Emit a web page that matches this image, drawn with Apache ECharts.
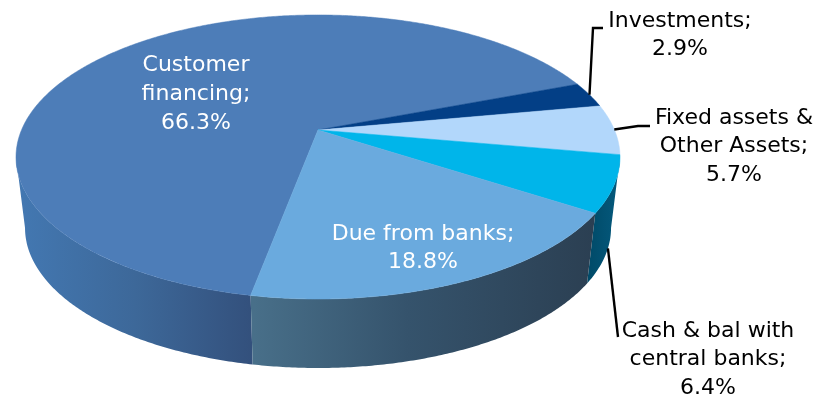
<!DOCTYPE html>
<html>
<head>
<meta charset="utf-8">
<style>html,body{margin:0;padding:0;background:#fff}#chart{width:815px;height:397px}</style>
<script src="https://cdn.jsdelivr.net/npm/echarts@6/dist/echarts.min.js"></script>
</head>
<body>
<div id="chart"></div>
<script>
// Asset mix, clockwise from the start of "Customer financing"
const categories = ['Customer\nfinancing', 'Investments', 'Fixed assets &\nOther Assets', 'Cash & bal with\ncentral banks', 'Due from banks'];
const shares = [66.3, 2.9, 5.7, 6.4, 18.8];

const faceColors = ['#4d7db8', '#033f86', '#b2d7fb', '#00b5ea', '#6aaade'];
const wallStops = [
  [[0, '#4378b2'], [0.5, '#3d6899'], [1, '#33507c']],
  [[0, '#02254f'], [1, '#02254f']],
  [[0, '#6a8199'], [1, '#6a8199']],
  [[0, '#004a68'], [1, '#055a7e']],
  [[0, '#486f89'], [0.45, '#35536c'], [1, '#2b3f52']]
];
const wallRange = [[17, 254], [570, 600], [600, 621], [588, 621], [254, 596]];

// Label placement: text centre, first line centre, leader polyline after its rim anchor
const labelLayouts = [
  { x: 196, y: 65.5, white: true },
  { x: 680, y: 21, leader: [[593, 28], [603, 28]] },
  { x: 734, y: 118, leader: [[638, 126], [650, 126]] },
  { x: 708, y: 331, leader: [[618, 337]], onWall: true, anchorShift: -2.5 },
  { x: 423, y: 234, white: true }
];
const LINE_HEIGHT = 28.7;
const FONT = '22px "DejaVu Sans"';

// Perspective disc: the hub sits above the centre of the elliptical rim
const hub = { x: 318, y: 130 };
const persp = { a: 136.9, c: -0.19, d: 296.5 };
const rimTop = { x: 319, y: 157 };
const rimBottom = { x: 319, y: 228, sx: 293 / 302, sy: 140 / 142 };
const START_DEG = 100.65;
// The wall faces the viewer only between the rim's left and right extremes
const FRONT_FROM = 11, FRONT_TO = 169;

const total = shares.reduce((s, v) => s + v, 0);

function topPoint(deg) {
  const t = deg * Math.PI / 180;
  const u = Math.cos(t), v = Math.sin(t);
  const w = 1 + persp.c * v;
  return [hub.x + persp.d * u / w, hub.y + persp.a * v / w];
}
function bottomPoint(deg) {
  const p = topPoint(deg);
  return [
    rimBottom.x + (p[0] - rimTop.x) * rimBottom.sx,
    rimBottom.y + (p[1] - rimTop.y) * rimBottom.sy
  ];
}
function arc(from, to, fn) {
  const n = Math.max(2, Math.ceil((to - from) / 0.5));
  const pts = [];
  for (let i = 0; i <= n; i++) pts.push(fn(from + (to - from) * i / n));
  return pts;
}
function sliceRange(index) {
  let start = START_DEG;
  for (let i = 0; i < index; i++) start += shares[i] / total * 360;
  return [start, start + shares[index] / total * 360];
}
function frontPart(from, to) {
  for (const turn of [0, 360]) {
    const a = Math.max(from, FRONT_FROM + turn);
    const b = Math.min(to, FRONT_TO + turn);
    if (b > a) return [a, b];
  }
  return null;
}

function renderSlice(params, api) {
  const i = params.dataIndex;
  const value = api.value(0);
  const [from, to] = sliceRange(i);
  const mid = (from + to) / 2;
  const layout = labelLayouts[i];
  const children = [];

  const front = frontPart(from, to);
  if (front) {
    const range = wallRange[i];
    children.push({
      type: 'polygon', z2: 1,
      shape: { points: arc(front[0], front[1], topPoint).concat(arc(front[0], front[1], bottomPoint).reverse()) },
      style: { fill: new echarts.graphic.LinearGradient(range[0], 0, range[1], 0,
        wallStops[i].map(s => ({ offset: s[0], color: s[1] })), true) }
    });
  }
  children.push({
    type: 'polygon', z2: 2,
    shape: { points: [[hub.x, hub.y]].concat(arc(from, to, topPoint)) },
    style: { fill: faceColors[i], stroke: faceColors[i], lineWidth: 0.5 }
  });

  if (layout.leader) {
    const deg = mid + (layout.anchorShift || 0);
    const anchor = layout.onWall ? bottomPoint(deg) : topPoint(deg);
    children.push({
      type: 'polyline', z2: 3,
      shape: { points: [anchor].concat(layout.leader) },
      style: { stroke: '#000', lineWidth: 2.4, fill: null }
    });
  }

  const lines = (categories[i] + ';\n' + value.toFixed(1) + '%').split('\n');
  lines.forEach((line, k) => {
    children.push({
      type: 'text', z2: 4,
      x: layout.x, y: layout.y + k * LINE_HEIGHT,
      style: { text: line, font: FONT, fill: layout.white ? '#fff' : '#000', align: 'center', verticalAlign: 'middle' }
    });
  });
  return { type: 'group', children };
}

const chart = echarts.init(document.getElementById('chart'));
chart.setOption({
  animation: false,
  backgroundColor: '#fff',
  series: [{
    type: 'custom',
    coordinateSystem: 'none',
    renderItem: renderSlice,
    data: shares.map(v => [v])
  }]
});
</script>
</body>
</html>
